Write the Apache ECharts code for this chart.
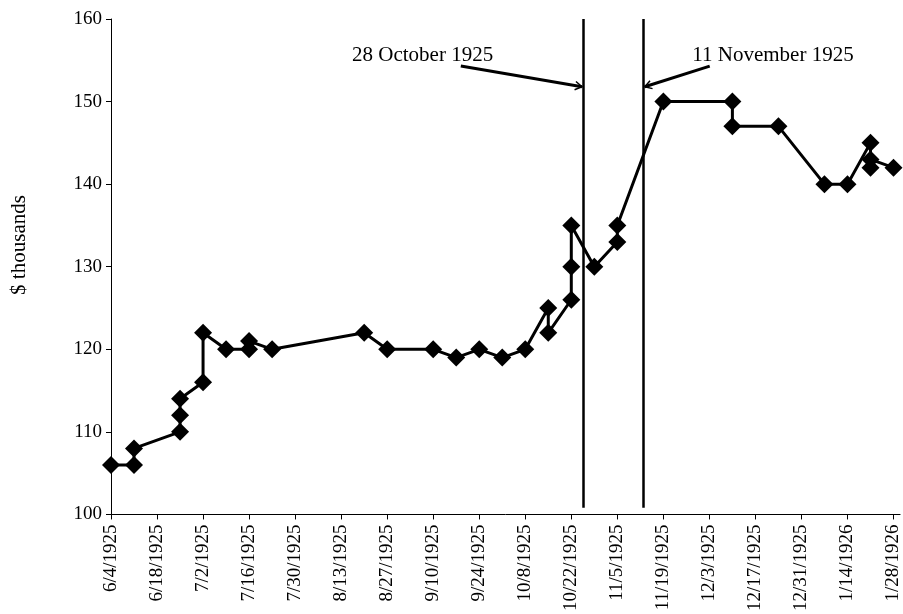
<!DOCTYPE html>
<html>
<head>
<meta charset="utf-8">
<script src="https://cdn.jsdelivr.net/npm/echarts@6/dist/echarts.min.js"></script>
<style>html,body{margin:0;padding:0;background:#fff}#c{width:903px;height:614px}</style>
</head>
<body>
<div id="c"></div>
<script>
// ---- data ----
const dates = ['6/4/1925','6/11/1925','6/11/1925','6/25/1925','6/25/1925','6/25/1925','7/2/1925','7/2/1925','7/9/1925','7/16/1925','7/16/1925','7/23/1925','8/20/1925','8/27/1925','9/10/1925','9/17/1925','9/24/1925','10/1/1925','10/8/1925','10/15/1925','10/15/1925','10/22/1925','10/22/1925','10/22/1925','10/29/1925','11/5/1925','11/5/1925','11/19/1925','12/10/1925','12/10/1925','12/24/1925','1/7/1926','1/14/1926','1/21/1926','1/21/1926','1/21/1926','1/28/1926'];
const values = [106,106,108,110,112,114,116,122,120,120,121,120,122,120,120,119,120,119,120,125,122,126,130,135,130,133,135,150,150,147,147,140,140,145,142,143,142];
const axisStart = '6/4/1925';
const axisEnd = '1/30/1926';
const tickDays = 14;
const yTicks = [100, 110, 120, 130, 140, 150, 160];
const eventLineDates = ['10/25/1925 12:00', '11/13/1925 00:00'];
const eventLabels = ['28 October 1925', '11 November 1925'];
const yAxisTitle = '$ thousands';

// ---- helpers ----
function parseDate(s) {
  const parts = s.split(' ');
  const [m, d, y] = parts[0].split('/').map(Number);
  let h = 0, mi = 0;
  if (parts[1]) { [h, mi] = parts[1].split(':').map(Number); }
  return Date.UTC(y, m - 1, d, h, mi);
}
const t0 = parseDate(axisStart);
const DAY = 86400000;
function dayOf(s) { return (parseDate(s) - t0) / DAY; }
function fmtDay(v) {
  const d = new Date(t0 + Math.round(v) * DAY);
  return (d.getUTCMonth() + 1) + '/' + d.getUTCDate() + '/' + d.getUTCFullYear();
}

const seriesData = dates.map((d, i) => [dayOf(d), values[i]]);
const eventDays = eventLineDates.map(dayOf);
const FONT = '"Liberation Serif", "Times New Roman", serif';

const chart = echarts.init(document.getElementById('c'));
chart.setOption({
  animation: false,
  backgroundColor: '#fff',
  grid: { left: 111, right: 0, top: 19, bottom: 95, containLabel: false },
  xAxis: {
    type: 'value',
    min: 0,
    max: dayOf(axisEnd),
    interval: tickDays,
    axisLine: { show: true, onZero: false, lineStyle: { color: '#000', width: 1 } },
    axisTick: { show: true, length: 5, lineStyle: { color: '#000' } },
    splitLine: { show: false },
    axisLabel: {
      rotate: 90, margin: 10, showMaxLabel: false,
      fontFamily: FONT, fontSize: 19, color: '#000',
      formatter: fmtDay
    }
  },
  yAxis: {
    type: 'value',
    min: yTicks[0], max: yTicks[yTicks.length - 1], interval: 10,
    axisLine: { show: true, lineStyle: { color: '#000', width: 1 } },
    axisTick: { show: true, length: 5, lineStyle: { color: '#000' } },
    splitLine: { show: false },
    axisLabel: { margin: 9, fontFamily: FONT, fontSize: 19, color: '#000' }
  },
  series: [{
    type: 'line',
    data: seriesData,
    symbol: 'diamond',
    symbolSize: 18,
    showAllSymbol: true,
    lineStyle: { color: '#000', width: 3 },
    itemStyle: { color: '#000' },
    markLine: {
      silent: true,
      symbol: 'none',
      label: { show: false },
      lineStyle: { color: '#000', width: 2.5, type: 'solid' },
      data: eventDays.map(d => [{ coord: [d, 100.8] }, { coord: [d, 160] }])
    }
  }]
});

// annotations anchored in data space
function px(d, v) { return chart.convertToPixel({ gridIndex: 0 }, [d, v]); }
const arrows = [
  { from: px(106.4, 154.3), to: px(eventDays[0] - 0.25, 151.8) },
  { from: px(182.1, 154.3), to: px(eventDays[1] + 0.35, 151.8) }
];
const labelPos = [px(73.3, 155.6), px(176.8, 155.6)];
const g = [];
arrows.forEach(a => {
  g.push({ type: 'line', shape: { x1: a.from[0], y1: a.from[1], x2: a.to[0], y2: a.to[1] },
    style: { stroke: '#000', lineWidth: 3 }, z: 10 });
  const ang = Math.atan2(a.to[1] - a.from[1], a.to[0] - a.from[0]);
  const L = 8, sp = 0.55;
  g.push({ type: 'polyline', shape: { points: [
      [a.to[0] - L * Math.cos(ang - sp), a.to[1] - L * Math.sin(ang - sp)],
      [a.to[0], a.to[1]],
      [a.to[0] - L * Math.cos(ang + sp), a.to[1] - L * Math.sin(ang + sp)] ] },
    style: { stroke: '#000', lineWidth: 1.5, fill: null }, z: 10 });
});
eventLabels.forEach((t, i) => {
  g.push({ type: 'text', x: labelPos[i][0], y: labelPos[i][1],
    style: { text: t, font: '21px ' + FONT, fill: '#000', align: 'left', verticalAlign: 'middle' }, z: 10 });
});
g.push({ type: 'text', x: 19.5, y: 245, rotation: Math.PI / 2,
  style: { text: yAxisTitle, font: '21px ' + FONT, fill: '#000', align: 'center', verticalAlign: 'middle' }, z: 10 });
chart.setOption({ graphic: g });
</script>
</body>
</html>
